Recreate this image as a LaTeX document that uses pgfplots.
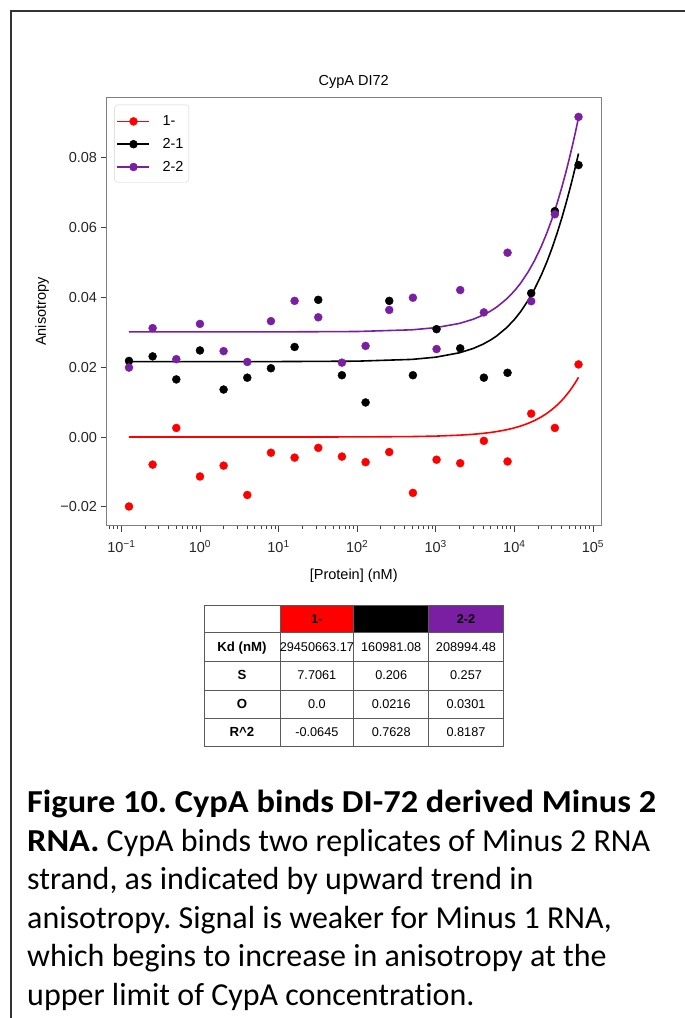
\documentclass[border=0pt]{standalone}
\usepackage{pgfplots}
\pgfplotsset{compat=1.18}
\usepackage{fontspec}
\setmainfont{Liberation Sans}
\newfontfamily\carlito[Ligatures=NoCommon, BoldFeatures={FakeStretch=1.075}]{Carlito}
\definecolor{mpurple}{HTML}{7B1FA2}
\definecolor{framegray}{HTML}{7F7F7F}
\definecolor{gridgray}{HTML}{5A5A5A}
\frenchspacing
\begin{document}
\begin{tikzpicture}[x=1pt,y=1pt]
\useasboundingbox (0pt,0pt) rectangle (685pt,1018pt);
% page frame
\draw[line width=1.5pt, black!80] (11pt,-5pt) -- (11pt,1007pt) -- (690pt,1007pt);

\begin{axis}[
  at={(106.5pt,492.3pt)}, anchor=south west,
  scale only axis, width=494.5pt, height=428pt,
  xmode=log, xmin=0.0647, xmax=126600,
  ymin=-0.0254, ymax=0.0972,
  scaled y ticks=false,
  axis line style={framegray, line width=0.9pt},
  tick style={black!75, line width=0.8pt},
  major tick length=6pt, minor tick length=3.5pt,
  tick align=outside, xtick pos=bottom, ytick pos=left,
  xtick={0.1,1,10,100,1000,10000,100000},
  xticklabels={10\textsuperscript{−1},10\textsuperscript{0},10\textsuperscript{1},10\textsuperscript{2},10\textsuperscript{3},10\textsuperscript{4},10\textsuperscript{5}},
  minor xtick={0.07,0.08,0.09,0.2,0.3,0.4,0.5,0.6,0.7,0.8,0.9,2,3,4,5,6,7,8,9,20,30,40,50,60,70,80,90,200,300,400,500,600,700,800,900,2000,3000,4000,5000,6000,7000,8000,9000,20000,30000,40000,50000,60000,70000,80000,90000},
  ytick={-0.02,0,0.02,0.04,0.06,0.08},
  yticklabels={−0.02,0.00,0.02,0.04,0.06,0.08},
  tick label style={font=\fontsize{14.5}{16}\selectfont, text=black!85},
  xticklabel style={yshift=-5pt},
  title={CypA DI72},
  title style={at={(0.5,1)}, anchor=base, yshift=5.7pt, font=\fontsize{14.5}{16}\selectfont},
  xlabel={[Protein] (nM)},
  xlabel style={at={(0.5,0)}, anchor=base, yshift=-54.3pt, font=\fontsize{14.5}{16}\selectfont},
  ylabel={Anisotropy},
  ylabel style={at={(axis description cs:-0.1304,0.5)}, anchor=center, font=\fontsize{14.5}{16}\selectfont},
  legend style={at={(0,1)}, anchor=north west, xshift=8pt, yshift=-7pt,
    draw=black!18, rounded corners=3pt, fill=white,
    font=\fontsize{14.5}{16}\selectfont,
    inner xsep=2pt, inner ysep=4.5pt, column sep=9pt,
    nodes={inner xsep=3.3pt, inner ysep=6.2pt, text height=10.4pt, text depth=0pt}},
  legend cell align=left,
  legend image code/.code={\draw[mark repeat=2,mark phase=2,line width=1.6pt] plot coordinates {(0pt,-0.6pt) (16pt,-0.6pt) (32pt,-0.6pt)};},
]
\addlegendimage{red, line width=1.6pt, mark=*, mark size=4pt, mark options={line width=0.4pt}}
\addlegendentry{1-}
\addlegendimage{black, line width=1.6pt, mark=*, mark size=4pt, mark options={line width=0.4pt}}
\addlegendentry{2-1}
\addlegendimage{mpurple, line width=1.6pt, mark=*, mark size=4pt, mark options={line width=0.4pt}}
\addlegendentry{2-2}

% 1- data
\addplot[only marks, mark=*, mark size=4pt, red, forget plot] coordinates {
(0.125,-0.0199) (0.25,-0.0079) (0.5,0.0026) (1,-0.0113) (2,-0.0082)
(4,-0.0166) (8,-0.0045) (16,-0.0059) (32,-0.0031) (64,-0.0056)
(128,-0.0072) (256,-0.0043) (512,-0.0160) (1024,-0.0065) (2048,-0.0075)
(4096,-0.0011) (8192,-0.0070) (16384,0.0067) (32768,0.0026) (65536,0.0208)
};
% 1- fit
\addplot[red, line width=1.6pt, forget plot] coordinates {
(0.125,0) (1,0.0000003) (10,0.0000026) (100,0.000026) (500,0.000131)
(1000,0.000262) (2000,0.000523) (3000,0.000785) (4000,0.001047) (5000,0.001308)
(6000,0.001570) (8000,0.002093) (10000,0.002616) (12000,0.003139) (15000,0.003923)
(18000,0.004707) (22000,0.005752) (26000,0.006797) (30000,0.007842) (35000,0.009147)
(40000,0.010452) (45000,0.011757) (50000,0.013061) (55000,0.014364) (60000,0.015668)
(65536,0.017110)
};
% 2-1 data
\addplot[only marks, mark=*, mark size=4pt, black, forget plot] coordinates {
(0.125,0.0218) (0.25,0.0231) (0.5,0.0165) (1,0.0248) (2,0.0136)
(4,0.0170) (8,0.0197) (16,0.0258) (32,0.0393) (64,0.0177)
(128,0.0099) (256,0.0390) (512,0.0177) (1024,0.0309) (2048,0.0254)
(4096,0.0170) (8192,0.0184) (16384,0.0412) (32768,0.0647) (65536,0.0779)
};
% 2-1 fit
\addplot[black, line width=1.6pt, forget plot] coordinates {
(0.125,0.021600) (1,0.021601) (10,0.021613) (100,0.021728) (500,0.022238)
(1000,0.022872) (2000,0.024128) (3000,0.025369) (4000,0.026595) (5000,0.027806)
(6000,0.029002) (8000,0.031353) (10000,0.033648) (12000,0.035891) (15000,0.039159)
(18000,0.042317) (22000,0.046368) (26000,0.050245) (30000,0.053959) (35000,0.058389)
(40000,0.062599) (45000,0.066604) (50000,0.070420) (55000,0.074058) (60000,0.077532)
(65536,0.081200)
};
% 2-2 data
\addplot[only marks, mark=*, mark size=4pt, mpurple, forget plot] coordinates {
(0.125,0.0199) (0.25,0.0312) (0.5,0.0223) (1,0.0324) (2,0.0246)
(4,0.0215) (8,0.0332) (16,0.0390) (32,0.0343) (64,0.0213)
(128,0.0261) (256,0.0364) (512,0.0399) (1024,0.0252) (2048,0.0421)
(4096,0.0357) (8192,0.0528) (16384,0.0389) (32768,0.0638) (65536,0.0917)
};
% 2-2 fit
\addplot[mpurple, line width=1.6pt, forget plot] coordinates {
(0.125,0.030100) (1,0.030101) (10,0.030112) (100,0.030223) (500,0.030713)
(1000,0.031324) (2000,0.032536) (3000,0.033737) (4000,0.034926) (5000,0.036105)
(6000,0.037272) (8000,0.039575) (10000,0.041836) (12000,0.044055) (15000,0.047310)
(18000,0.050479) (22000,0.054577) (26000,0.058535) (30000,0.062360) (35000,0.066966)
(40000,0.071386) (45000,0.075632) (50000,0.079715) (55000,0.083643) (60000,0.087425)
(65536,0.091452)
};
\end{axis}

% ---- table ----
\fill[red] (280pt,385.7pt) rectangle (353.7pt,413pt);
\fill[black] (353.7pt,385.7pt) rectangle (428.7pt,413pt);
\fill[mpurple] (428.7pt,385.7pt) rectangle (503.3pt,413pt);
\draw[gridgray, line width=0.9pt] (204pt,271.3pt) rectangle (503.3pt,413pt);
\foreach \xx in {280,353.7,428.7} \draw[gridgray, line width=0.9pt] (\xx pt,271.3pt) -- (\xx pt,413pt);
\foreach \yy in {385.7,357,328,299.7} \draw[gridgray, line width=0.9pt] (204pt,\yy pt) -- (503.3pt,\yy pt);
\begin{scope}[every node/.style={inner sep=0pt, anchor=base, font=\fontsize{12.7}{14}\selectfont}]
\node[font=\bfseries\fontsize{12.7}{14}\selectfont] at (316.85pt,394.9pt) {1-};
\node[font=\bfseries\fontsize{12.7}{14}\selectfont] at (391.2pt,394.9pt) {2-1};
\node[font=\bfseries\fontsize{12.7}{14}\selectfont] at (466pt,394.9pt) {2-2};
\node[font=\bfseries\fontsize{13.2}{14}\selectfont] at (242pt,366.8pt) {Kd (nM)};
\node[font=\bfseries\fontsize{13.2}{14}\selectfont] at (242pt,338.0pt) {S};
\node[font=\bfseries\fontsize{13.2}{14}\selectfont] at (242pt,309.4pt) {O};
\node[font=\bfseries\fontsize{13.2}{14}\selectfont] at (242pt,281.0pt) {R\textasciicircum 2};
\node at (316.85pt,366.8pt) {29450663.17};
\node at (391.2pt,366.8pt) {160981.08};
\node at (466pt,366.8pt) {208994.48};
\node at (316.85pt,338.0pt) {7.7061};
\node at (391.2pt,338.0pt) {0.206};
\node at (466pt,338.0pt) {0.257};
\node at (316.85pt,309.4pt) {0.0};
\node at (391.2pt,309.4pt) {0.0216};
\node at (466pt,309.4pt) {0.0301};
\node at (316.85pt,281.0pt) {-0.0645};
\node at (391.2pt,281.0pt) {0.7628};
\node at (466pt,281.0pt) {0.8187};
\end{scope}

% ---- caption ----
\begin{scope}[every node/.style={inner sep=0pt, anchor=base west, font=\carlito\fontsize{32}{39}\selectfont}]
\node at (27pt,205pt) {\bfseries Figure 10. CypA binds DI-72 derived Minus 2};
\node at (27pt,166.5pt) {\textbf{RNA.} CypA binds two replicates of Minus 2 RNA};
\node at (27pt,128pt) {strand, as indicated by upward trend in};
\node at (27pt,89.5pt) {anisotropy. Signal is weaker for Minus 1 RNA,};
\node at (27pt,51pt) {which begins to increase in anisotropy at the};
\node at (27pt,12.5pt) {upper limit of CypA concentration.};
\end{scope}
\end{tikzpicture}
\end{document}
